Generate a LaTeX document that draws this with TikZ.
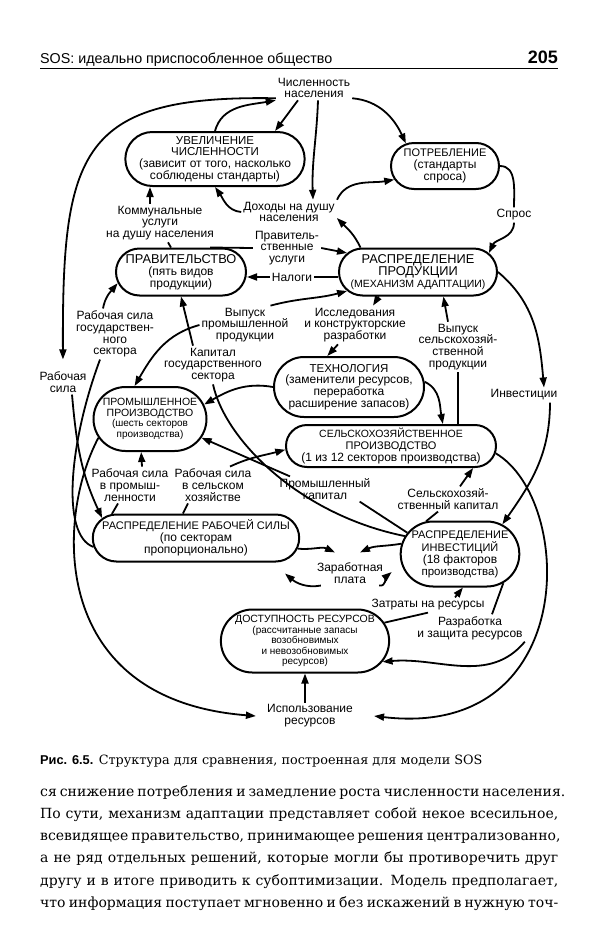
\documentclass[tikz,border=0pt]{standalone}
\usepackage{fontspec}
\setmainfont{DejaVu Serif}
\newfontfamily\sansf{Liberation Sans}
\usetikzlibrary{arrows.meta,shapes.misc}

\newcommand\lbl{\sansf\fontsize{12}{11.8}\selectfont}
\newcommand\lbs{\sansf\fontsize{10}{10.5}\selectfont}
\newcommand\fs[1]{\fontsize{#1}{11.5}\selectfont}

\tikzset{
  blok/.style={draw, line width=2pt, rounded rectangle, align=center, inner sep=1pt, font=\lbl},
  lab/.style={align=center, inner sep=2pt, font=\lbl},
  con/.style={line width=1.8pt},
  arr/.style={con, -{Triangle[length=10pt,width=7pt]}},
  txt/.style={anchor=base west, inner sep=0, font=\fontsize{14}{22}\selectfont},
}

\begin{document}
\begin{tikzpicture}[x=1pt,y=1pt]
    \useasboundingbox (0,0) rectangle (600,-932);
    \path (40,-63) node[anchor=base west, inner sep=0, font=\sansf\fontsize{14.3}{14}\selectfont] (head) {SOS: идеально приспособленное общество};
    \path (558,-63) node[anchor=base east, inner sep=0, font=\sansf\bfseries\fontsize{18}{18}\selectfont] (pagenum) {205};
    \draw[line width=0.8pt] (40,-68) -- (558,-68);

    \path (215,-159) node[blok, minimum width=176pt, minimum height=54pt] (uvel) {{\fs{11.5}УВЕЛИЧЕНИЕ}\\{\fs{11.5}ЧИСЛЕННОСТИ}\\(зависит от того, насколько\\соблюдены стандарты)};
    \path (445,-166) node[blok, minimum width=110pt, minimum height=46pt] (potr) {{\fs{11}ПОТРЕБЛЕНИЕ}\\(стандарты\\спроса)};
    \path (181,-272) node[blok, minimum width=132pt, minimum height=47pt] (prav) {{\fs{12.8}ПРАВИТЕЛЬСТВО}\\(пять видов\\продукции)};
    \path (418,-272) node[blok, minimum width=160pt, minimum height=47pt] (rpr) {{\fs{12.8}РАСПРЕДЕЛЕНИЕ}\\{\fs{12.8}ПРОДУКЦИИ}\\{\fs{10.5}(МЕХАНИЗМ АДАПТАЦИИ)}};
    \path (349,-387) node[blok, minimum width=152pt, minimum height=60pt] (tech) {{\fs{11.5}ТЕХНОЛОГИЯ}\\(заменители ресурсов,\\переработка\\расширение запасов)};
    \path (150,-419) node[blok, font=\lbs, minimum width=115pt, minimum height=64pt] (prom) {{\fs{10.5}ПРОМЫШЛЕННОЕ}\\{\fs{10.5}ПРОИЗВОДСТВО}\\(шесть секторов\\производства)};
    \path (391,-446) node[blok, minimum width=212pt, minimum height=42pt] (sel) {{\fs{10.5}СЕЛЬСКОХОЗЯЙСТВЕННОЕ}\\{\fs{11}ПРОИЗВОДСТВО}\\{\fs{12}(1 из 12 секторов производства)}};
    \path (196,-538) node[blok, minimum width=194pt, minimum height=47pt] (rrs) {{\fs{11}РАСПРЕДЕЛЕНИЕ РАБОЧЕЙ СИЛЫ}\\(по секторам\\пропорционально)};
    \path (460,-554) node[blok, minimum width=112pt, minimum height=65pt] (rinv) {{\fs{11}РАСПРЕДЕЛЕНИЕ}\\{\fs{11}ИНВЕСТИЦИЙ}\\(18 факторов\\{\fs{11.5}производства)}};
    \path (305,-641) node[blok, font=\lbs, minimum width=166pt, minimum height=63pt] (dost) {{\fs{10.5}ДОСТУПНОСТЬ РЕСУРСОВ}\\(рассчитанные запасы\\возобновимых\\и невозобновимых\\ресурсов)};

    \path (314,-88) node[lab] (chisl) {Численность\\населения};
    \path (289,-212) node[lab] (doh) {Доходы на душу\\населения};
    \path (160,-223) node[lab] (komm) {Коммунальные\\услуги\\на душу населения};
    \path (514,-215) node[lab] (spros) {Спрос};
    \path (287,-248) node[lab] (pravu) {Правитель-\\ственные\\услуги};
    \path (292,-277) node[lab] (nalogi) {Налоги};
    \path (245,-325) node[lab] (vprom) {Выпуск\\промышленной\\продукции};
    \path (355,-325) node[lab] (issl) {Исследования\\и конструкторские\\разработки};
    \path (458,-347) node[lab] (vsel) {Выпуск\\сельскохозяй-\\ственной\\продукции};
    \path (213,-365) node[lab] (kapgos) {Капитал\\государственного\\сектора};
    \path (115,-334) node[lab] (rsgos) {Рабочая сила\\государствен-\\ного\\сектора};
    \path (63,-382) node[lab] (rsila) {Рабочая\\сила};
    \path (524,-395) node[lab] (invest) {Инвестиции};
    \path (130,-485) node[lab] (rsprom) {Рабочая сила\\в промыш-\\ленности};
    \path (213,-485) node[lab] (rssel) {Рабочая сила\\в сельском\\хозяйстве};
    \path (325,-489) node[lab] (promkap) {Промышленный\\капитал};
    \path (448,-499) node[lab] (selkap) {Сельскохозяй-\\ственный капитал};
    \path (350,-573) node[lab] (zarpl) {Заработная\\плата};
    \path (428,-605) node[lab] (zatr) {Затраты на ресурсы};
    \path (470,-628) node[lab] (razr) {Разработка\\и защита ресурсов};
    \path (310,-716) node[lab] (ispol) {Использование\\ресурсов};

    \draw[arr] ([xshift=-16pt]chisl.south) -- (uvel.25);
    \draw[arr] (uvel.north) to[out=75,in=190] (chisl.south west);
    \draw[arr, shorten >=10pt] (chisl.195) .. controls (80,-95) and (62,-150) .. (rsila.north);
    \draw[arr] ([xshift=9pt]rsila.south) to[out=-85,in=115] (rrs.168);
    \draw[arr] ([xshift=4pt]chisl.south) to[out=-92,in=92] ([xshift=24pt]doh.north);
    \draw[arr] (chisl.-15) to[out=-5,in=115] (potr.150);
    \draw[arr] ([xshift=48pt]doh.north) to[out=65,in=190] (potr.195);
    \draw[arr] (doh.west) to[out=175,in=-55] (uvel.south);
    \draw[con] (potr.east) to[out=0,in=90] (spros.north);
    \draw[arr] (spros.south) to[out=-90,in=65] (rpr.15);
    \draw[arr] (rpr.157) to[out=115,in=-45] ([yshift=-6pt]doh.east);
    \draw[con] ([xshift=-10pt]prav.north) -- ([xshift=8pt]komm.south);
    \draw[arr] ([xshift=-10pt]komm.north) -- ([xshift=-65pt]uvel.south);
    \draw[con] (prav.40) -- (pravu.west);
    \draw[arr] (pravu.east) -- (rpr.165);
    \draw[con] (nalogi.east -| rpr.west) -- (nalogi.east);
    \draw[arr] (nalogi.west) -- (nalogi.west -| prav.east);
    \draw[arr] ([xshift=-20pt]vprom.north east) to[out=15,in=-165] (rpr.-165);
    \draw[arr] (vprom.west) to[out=195,in=60] (prom.115);
    \draw[arr] (rpr.-148) -- ([xshift=18pt]issl.north);
    \draw[arr] ([xshift=-17pt]issl.south) -- (tech.125);
    \draw[con] (vsel.south |- sel.north) -- (vsel.south);
    \draw[arr] ([xshift=-10pt]vsel.north) -- (rpr.-44);
    \draw[arr] (tech.4) to[out=-25,in=100] (sel.23);
    \draw[arr] (tech.west) to[out=170,in=30] (prom.15);
    \draw[con] (rinv.162) .. controls (300,-515) and (225,-440) .. (kapgos.south);
    \draw[arr] ([xshift=-20pt]kapgos.north) -- (prav.south);
    \draw[con] (rinv.158) -- (promkap.-20);
    \draw[arr] ([xshift=-35pt]promkap.north) -- (prom.-20);
    \draw[con] (rrs.164) -- ([xshift=-12pt]rsprom.south);
    \draw[arr] ([xshift=12pt]rsprom.north) -- (prom.-105);
    \draw[con] (rrs.118) -- ([xshift=-25pt]rssel.south);
    \draw[arr] ([xshift=17pt]rssel.north) to[out=25,in=195] (sel.182);
    \draw[arr] (rrs.-6) to[out=-5,in=155] ([xshift=-15pt,yshift=8pt]zarpl.north);
    \draw[arr] (rinv.170) to[out=190,in=25] ([xshift=10pt,yshift=8pt]zarpl.north);
    \draw[arr] ([xshift=6pt]zarpl.south west) to[out=190,in=-40] ([xshift=89pt,yshift=-11pt]rrs.south);
    \draw[arr] ([xshift=-6pt]zarpl.south east) to[out=-10,in=220] ([xshift=-8pt,yshift=-18pt]rinv.west);
    \draw[arr] (rpr.east) to[out=-40,in=95] ([xshift=20pt]invest.north);
    \draw[arr] ([xshift=26pt]invest.south) to[out=-90,in=55] (rinv.35);
    \draw[con] (rinv.136) -- ([xshift=-10pt]selkap.south);
    \draw[arr] ([xshift=12pt]selkap.north) -- (sel.-15);
    \draw[arr] (sel.-4) .. controls (575,-500) and (580,-740) .. ([xshift=19pt]ispol.east);
    \draw[arr] (prom.-160) .. controls (55,-520) and (50,-700) .. ([xshift=-9pt]ispol.west);
    \draw[arr] ([xshift=-12pt]rsgos.north) to[out=80,in=230] (prav.190);
    \draw[con] (rrs.185) .. controls (60,-535) and (70,-440) .. ([xshift=-15pt]rsgos.south);
    \draw[con] (dost.13) -- (zatr.south);
    \draw[arr] ([xshift=27pt]zatr.north) -- (rinv.-85);
    \draw[con] (rinv.-34) -- ([xshift=22pt]razr.north);
    \draw[arr] (razr.south east) to[out=-130,in=5] (dost.-15);
    \draw[arr] (ispol.north -| dost.south) -- (dost.south);

    \path (40,-764) node[anchor=base west, inner sep=0, font=\fontsize{12.8}{14}\selectfont] (caption) {{\sansf\bfseries Рис. 6.5.} Структура для сравнения, построенная для модели SOS};
    \path (40,-796) node[txt] (line1) {\makebox[518pt][s]{ся снижение потребления и замедление роста численности населения.}};
    \path (40,-818) node[txt] (line2) {\makebox[518pt][s]{По сути, механизм адаптации представляет собой некое всесильное,}};
    \path (40,-840) node[txt] (line3) {\makebox[518pt][s]{всевидящее правительство, принимающее решения централизованно,}};
    \path (40,-862) node[txt] (line4) {\makebox[518pt][s]{а не ряд отдельных решений, которые могли бы противоречить друг}};
    \path (40,-885) node[txt] (line5) {\makebox[518pt][s]{другу и в итоге приводить к субоптимизации. Модель предполагает,}};
    \path (40,-907) node[txt] (line6) {\makebox[518pt][s]{что информация поступает мгновенно и без искажений в нужную точ-}};
\end{tikzpicture}
\end{document}
